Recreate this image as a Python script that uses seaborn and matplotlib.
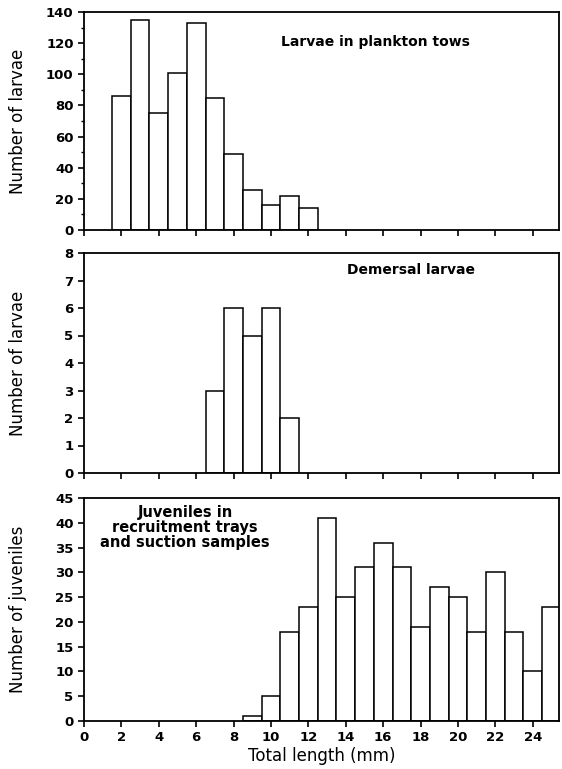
import numpy as np
import matplotlib
matplotlib.use("Agg")
import matplotlib.pyplot as plt
import seaborn as sns
from matplotlib.ticker import MultipleLocator

# Datos (longitud total en mm, conteos)
largo_plancton = [2, 3, 4, 5, 6, 7, 8, 9, 10, 11, 12]
n_plancton = [86, 135, 75, 101, 133, 85, 49, 26, 16, 22, 14]

largo_demersal = [7, 8, 9, 10, 11]
n_demersal = [3, 6, 5, 6, 2]

largo_juveniles = [9, 10, 11, 12, 13, 14, 15, 16, 17, 18, 19, 20, 21, 22, 23, 24, 25]
n_juveniles = [1, 5, 18, 23, 41, 25, 31, 36, 31, 19, 27, 25, 18, 30, 18, 10, 23]

etiquetas_y = ["Number of larvae", "Number of larvae", "Number of juveniles"]
textos = ["Larvae in plankton tows", "Demersal larvae",
          "Juveniles in\nrecruitment trays\nand suction samples"]

sns.set_style("ticks")
plt.rcParams["font.family"] = ["DejaVu Sans"]
plt.rcParams.update({"text.color": "black", "axes.labelcolor": "black",
                     "xtick.color": "black", "ytick.color": "black",
                     "axes.edgecolor": "black"})

fig = plt.figure(figsize=(5.62, 7.69), dpi=100)
izq, ancho = 84 / 562, (559 - 84) / 562
cajas = [(12, 230), (253, 473), (498, 721)]  # (arriba, abajo) en pixeles
ejes = []
for arriba, abajo in cajas:
    ax = fig.add_axes([izq, 1 - abajo / 769, ancho, (abajo - arriba) / 769])
    ejes.append(ax)

datos = [(largo_plancton, n_plancton), (largo_demersal, n_demersal),
         (largo_juveniles, n_juveniles)]
limites_y = [(140, 20, 10), (8, 1, None), (45, 5, None)]

for i, (ax, (x, n)) in enumerate(zip(ejes, datos)):
    sns.histplot(x=x, weights=n, discrete=True, ax=ax, color="white",
                 edgecolor="black", linewidth=1.1, alpha=1)
    ymax, paso, menor = limites_y[i]
    ax.set_xlim(0, 25.4)
    ax.set_ylim(0, ymax)
    ax.xaxis.set_major_locator(MultipleLocator(2))
    ax.yaxis.set_major_locator(MultipleLocator(paso))
    if menor:
        ax.yaxis.set_minor_locator(MultipleLocator(menor))
    for s in ax.spines.values():
        s.set_visible(True)
        s.set_linewidth(1.3)
    ax.tick_params(axis="both", which="major", direction="out", length=4,
                   width=1.2, labelsize=9.5)
    ax.tick_params(axis="both", which="minor", direction="out", length=2,
                   width=1)
    for lab in ax.get_yticklabels() + ax.get_xticklabels():
        lab.set_fontweight("bold")
    ax.set_ylabel(etiquetas_y[i], fontsize=12, labelpad=8)
    if i < 2:
        ax.set_xlabel("")
        ax.tick_params(axis="x", labelbottom=False)
    else:
        ax.set_xlabel("Total length (mm)", fontsize=12, labelpad=2)

ejes[0].text(15.6, 121, textos[0], ha="center", va="center", fontsize=10,
             fontweight="semibold")
ejes[1].text(17.5, 7.4, textos[1], ha="center", va="center", fontsize=10,
             fontweight="semibold")
ejes[2].text(5.4, 43.5, textos[2], ha="center", va="top", fontsize=10.5,
             fontweight="semibold", linespacing=1.0)

for ax in ejes:
    ax.yaxis.set_label_coords(-0.12, 0.5)

fig.savefig("out.png", dpi=100)
